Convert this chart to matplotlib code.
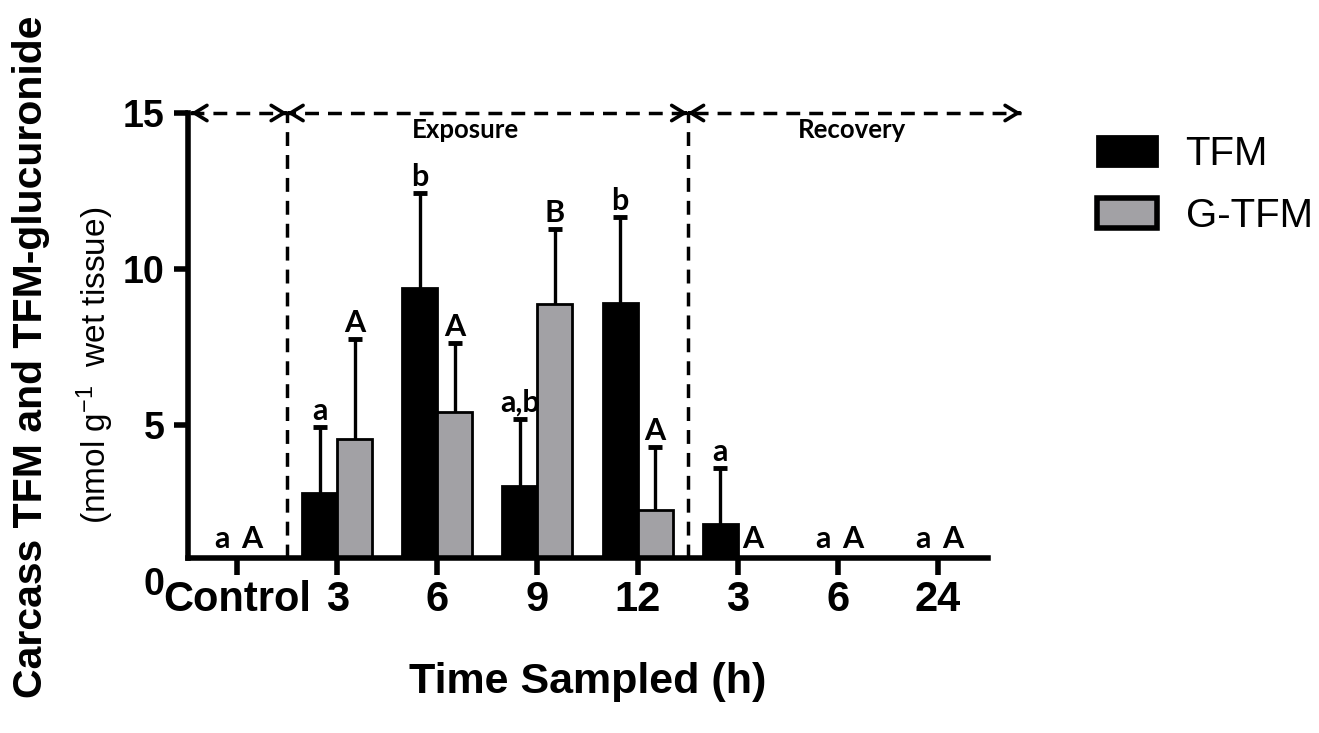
import matplotlib
matplotlib.use('Agg')
import matplotlib.pyplot as plt
from matplotlib.patches import Patch
import numpy as np

# ---- data ----
categories = ['Control', '3', '6', '9', '12', '3', '6', '24']
tfm_mean = [0.0, 2.81, 9.40, 3.05, 8.90, 1.82, 0.0, 0.0]
tfm_err = [0.0, 2.14, 3.03, 2.16, 2.76, 1.81, 0.0, 0.0]
gtfm_mean = [0.0, 4.55, 5.41, 8.87, 2.28, 0.0, 0.0, 0.0]
gtfm_err = [0.0, 3.21, 2.21, 2.41, 2.02, 0.0, 0.0, 0.0]
tfm_letters = ['a', 'a', 'b', 'a,b', 'b', 'a', 'a', 'a']
gtfm_letters = ['A', 'A', 'A', 'B', 'A', 'A', 'A', 'A']
series_labels = ['TFM', 'G-TFM']
phase_labels = ['Exposure', 'Recovery']
y_ticks = [5, 10, 15]

plt.rcParams['font.family'] = ['Liberation Sans', 'DejaVu Sans']
plt.rcParams['mathtext.fontset'] = 'custom'
plt.rcParams['mathtext.rm'] = 'Liberation Sans'
plt.rcParams['mathtext.it'] = 'Liberation Sans:italic'
plt.rcParams['mathtext.bf'] = 'Liberation Sans:bold'

W, H = 1319, 733
fig = plt.figure(figsize=(W / 100, H / 100), dpi=100)
ax = fig.add_axes([188 / W, 1 - 558 / H, 800 / W, 445 / H])

GREY = '#a2a1a5'
x = np.arange(len(categories))
w = 0.35
ybot, ytop = 0.74, 15

ax.bar(x - w / 2, tfm_mean, w, color='black', edgecolor='black', lw=2, zorder=2)
ax.bar(x + w / 2, gtfm_mean, w, color=GREY, edgecolor='black', lw=2, zorder=2)

# upward-only error bars
for xs, means, errs in [(x - w / 2, tfm_mean, tfm_err), (x + w / 2, gtfm_mean, gtfm_err)]:
    for xi, m, e in zip(xs, means, errs):
        if e > 0:
            ax.vlines(xi, m, m + e, color='black', lw=2.4, zorder=1.5)
            ax.plot([xi], [m + e], marker='_', ms=10, mew=3.5, color='black', zorder=1.5)

# significance letters
letter_font = dict(family=['Lato', 'DejaVu Sans'], fontweight='bold', fontsize=22)
for i in range(len(categories)):
    for sign, means, errs, letters in [(-1, tfm_mean, tfm_err, tfm_letters),
                                       (1, gtfm_mean, gtfm_err, gtfm_letters)]:
        m, e = means[i], errs[i]
        if m > 0:
            ax.annotate(letters[i], xy=(x[i] + sign * w / 2, m + e), xytext=(0, 5),
                        textcoords='offset points', ha='center', va='baseline',
                        annotation_clip=False, **letter_font)
        else:
            dx = -0.15 if sign < 0 else 0.15
            ax.annotate(letters[i], xy=(x[i] + dx, ybot), xytext=(0, 7),
                        textcoords='offset points', ha='center', va='baseline',
                        annotation_clip=False, **letter_font)

ax.set_xlim(-0.49, 7.5)
ax.set_ylim(ybot, ytop)

# dashed phase markers
dash = (0, (4, 2.6))
ax.vlines([0.5, 4.5], ybot, ytop, colors='black', linestyles=dash, lw=2.5, zorder=1)
ax.plot([-0.47, 7.83], [ytop, ytop], color='black', ls=dash, lw=2.5, clip_on=False, zorder=3)


def head(xtip, direction):
    ax.annotate('', xy=(xtip, ytop), xytext=(xtip - direction * 0.02, ytop),
                arrowprops=dict(arrowstyle='->,head_length=0.9,head_width=0.55',
                                lw=2.6, color='black', shrinkA=0, shrinkB=0),
                annotation_clip=False, zorder=4)


head(-0.46, -1)
head(0.5, 1)
head(0.5, -1)
head(4.5, 1)
head(4.5, -1)
head(7.83, 1)

phase_font = dict(family=['Lato', 'DejaVu Sans'], fontweight='bold', fontsize=18.5)
ax.text(2.28, 14.45, phase_labels[0], ha='center', va='center', **phase_font)
ax.text(6.14, 14.45, phase_labels[1], ha='center', va='center', **phase_font)

# axes styling
for s in ['top', 'right']:
    ax.spines[s].set_visible(False)
for s in ['left', 'bottom']:
    ax.spines[s].set_linewidth(4)
ax.set_xticks(x)
ax.set_xticklabels(categories, fontsize=30, fontweight='bold')
ax.set_yticks(y_ticks)
ax.set_yticklabels([str(t) for t in y_ticks], fontsize=27, fontweight='bold')
ax.tick_params(axis='x', length=12, width=4, pad=4)
ax.tick_params(axis='y', length=10, width=4, pad=7)
ax.annotate('0', xy=(0, 0), xycoords=('axes fraction', 'data'), xytext=(-17, 0),
            textcoords='offset points', ha='right', va='center_baseline',
            fontsize=27, fontweight='bold', annotation_clip=False)

fig.text(588 / W, 1 - 693 / H, 'Time Sampled (h)', ha='center', va='baseline',
         fontsize=31, fontweight='bold')
fig.text(31 / W, 1 - 357 / H, 'Carcass TFM and TFM-glucuronide', rotation=90,
         ha='center', va='center', fontsize=29.5, fontweight='bold')
fig.text(95 / W, 1 - 365 / H, r'(nmol g$^{-1}$  wet tissue)', rotation=90,
         ha='center', va='center', fontsize=24)

handles = [Patch(facecolor='black', edgecolor='black', lw=2),
           Patch(facecolor=GREY, edgecolor='black', lw=4)]
ax.legend(handles, series_labels, loc='upper left',
          bbox_to_anchor=(1097 / W, 1 - 135 / H), bbox_transform=fig.transFigure,
          frameon=False, fontsize=29, handlelength=1.5, handleheight=0.75,
          handletextpad=0.7, labelspacing=0.6, borderpad=0, borderaxespad=0)

fig.savefig('out.png', dpi=100)
